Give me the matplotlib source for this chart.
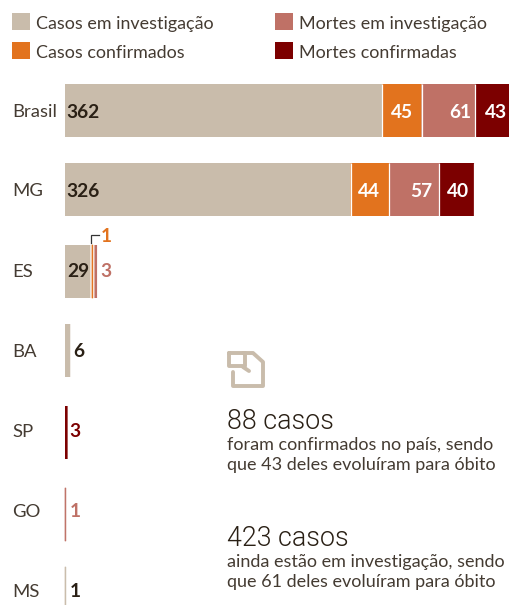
import matplotlib
matplotlib.use("Agg")
import matplotlib.pyplot as plt

plt.rcParams["font.family"] = ["Lato", "DejaVu Sans"]

W, H = 509, 605

regions = ["Brasil", "MG", "ES", "BA", "SP", "GO", "MS"]
casos_inv = [362, 326, 29, 6, 0, 0, 1]
casos_conf = [45, 44, 1, 0, 0, 0, 0]
mortes_inv = [61, 57, 3, 0, 0, 1, 0]
mortes_conf = [43, 40, 0, 0, 3, 0, 0]
series_names = ["Casos em investigação", "Casos confirmados",
                "Mortes em investigação", "Mortes confirmadas"]

BEGE = "#c9bcab"
LARANJA = "#e2731e"
ROSA = "#bf7166"
VINHO = "#7c0000"
ESCURO = "#2a2015"
CINZA = "#443b32"
colors = [BEGE, LARANJA, ROSA, VINHO]
series = [casos_inv, casos_conf, mortes_inv, mortes_conf]

# row centres in px, the rows are not evenly spaced
row_y = [110.5, 189.5, 271.5, 350.5, 432.5, 514.5, 593.5]
label_y = [117, 196, 277, 357, 437, 517, 597]

fig = plt.figure(figsize=(W / 100, H / 100), dpi=100)

# bars: x in cases (0.876 px per case, starts at px 65), y in px
ax = fig.add_axes([0, 0, 1, 1])
ax.set_xlim(-65 / 0.876, (W - 65) / 0.876)
ax.set_ylim(H, 0)
ax.axis("off")

for i, y in enumerate(row_y):
    left = 0
    for vals, col in zip(series, colors):
        v = vals[i]
        if v == 0:
            continue
        # the ES slivers would merge without a little room
        if left > 0 and left < 100:
            left += 1.8
        # one case is under a pixel wide, so thicken it with an edge
        ax.barh(y, v, left=left, height=53, color=col, snap=False,
                edgecolor=col, lw=0.5 if v == 1 else 0)
        left += v
        if left > 100:
            ax.vlines(left, y - 26.5, y + 26.5, color="white", lw=0.9)

ov = fig.add_axes([0, 0, 1, 1], facecolor="none")
ov.set_xlim(0, W)
ov.set_ylim(H, 0)
ov.axis("off")

for name, (x, y), col in zip(series_names,
                             [(12, 13), (12, 42), (275, 13), (275, 42)], colors):
    ov.add_patch(plt.Rectangle((x, y), 18, 17, color=col, lw=0))
    ov.text(x + 24.5, y + 16.5, name, fontsize=12.9, color=CINZA, va="baseline")

for name, y in zip(regions, label_y):
    ov.text(12, y, name, fontsize=13.3, color=CINZA, va="baseline")

labels = [(66, 118, "362", ESCURO), (66, 197, "326", ESCURO),
          (391, 118, "45", "white"), (449, 118, "61", "white"), (485, 118, "43", "white"),
          (358, 197, "44", "white"), (410, 197, "57", "white"), (447, 197, "40", "white"),
          (67, 277, "29", ESCURO), (100, 277, "3", ROSA), (101, 242, "1", LARANJA),
          (73, 357, "6", ESCURO), (69, 437, "3", VINHO), (70, 517, "1", ROSA),
          (70, 597, "1", ESCURO)]
for x, y, s, c in labels:
    ov.text(x, y, s, fontsize=13.8, fontweight="bold", color=c, va="baseline")

# small bracket for the "1" in ES
ov.plot([91, 91, 99], [243, 235, 235], color="#333333", lw=0.9, solid_joinstyle="miter")

# icon
ic = dict(color=BEGE, lw=2.8, solid_capstyle="round", solid_joinstyle="round")
ov.plot([243, 253, 263, 263, 233, 233], [353, 353, 362, 386, 386, 372], **ic)
ov.plot([229, 245, 245, 229, 229], [353, 353, 366, 366, 353], **ic)
ov.plot([243, 249], [367, 371], **ic)

big = dict(fontsize=19.3, color=ESCURO, va="baseline", family=["Roboto", "DejaVu Sans"],
           fontweight=300)
ov.text(227, 429, "88 casos", **big)
ov.text(227, 546, "423 casos", **big)
ov.text(227, 450, "foram confirmados no país, sendo", fontsize=13, color=CINZA, va="baseline")
ov.text(227, 470, "que 43 deles evoluíram para óbito", fontsize=13, color=CINZA, va="baseline")
ov.text(227, 567, "ainda estão em investigação, sendo", fontsize=13, color=CINZA, va="baseline")
ov.text(227, 587, "que 61 deles evoluíram para óbito", fontsize=13, color=CINZA, va="baseline")

fig.savefig("out.png", dpi=100)
